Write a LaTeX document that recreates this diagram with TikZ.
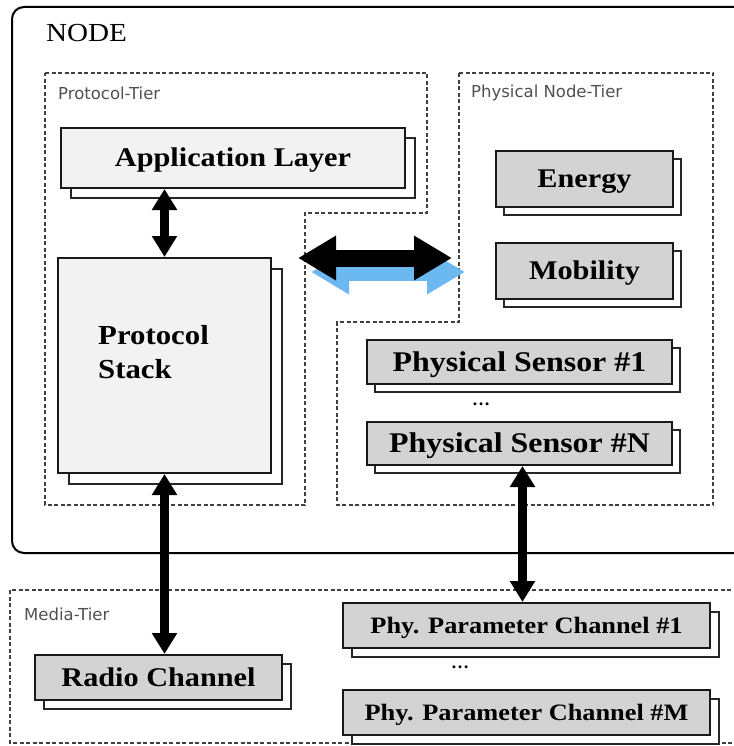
\documentclass[tikz,border=0pt]{standalone}
\usepackage{fontspec}
\setmainfont{Liberation Serif}
\newfontfamily\boxfont{Liberation Serif}[FakeStretch=1.12]
\newfontfamily\tierfont{DejaVu Sans}
\usetikzlibrary{arrows.meta,shadows,calc}
\definecolor{paleface}{HTML}{F2F2F2}
\definecolor{midface}{HTML}{D3D3D3}
\definecolor{tiergray}{HTML}{505050}
\definecolor{skyarrow}{HTML}{6CB8F0}

\begin{document}
\begin{tikzpicture}[x=1pt,y=-1pt,
  frontbox/.style={draw=black!90, line width=2pt, inner sep=0pt,
    text height=17.5pt, text depth=0pt,
    font=\boxfont\bfseries\fontsize{27pt}{32pt}\selectfont},
  bigtext/.style={text height=18.5pt,
    font=\boxfont\bfseries\fontsize{28.5pt}{32pt}\selectfont},
  smalltext/.style={text height=15.5pt,
    font=\boxfont\bfseries\fontsize{23.5pt}{28pt}\selectfont},
  backcopy/.style={copy shadow={shadow xshift=#1, shadow yshift=-#1,
    fill=white, draw=black!85, line width=1.2pt}},
  lightbox/.style={frontbox, fill=paleface},
  greybox/.style={frontbox, fill=midface},
  tier/.style={draw=black!75, line width=1.1pt, dash pattern=on 4pt off 2.5pt},
  tierlabel/.style={anchor=west, text=tiergray, inner sep=0pt,
    font=\tierfont\fontsize{16.5pt}{19pt}\selectfont},
  vlink/.style={line width=9pt,
    {Triangle[width=24pt,length=21pt]}-{Triangle[width=24pt,length=21pt]}},
  hlink/.style={line width=17pt,
    {Triangle[width=42pt,length=38pt]}-{Triangle[width=42pt,length=38pt]}},
  dotsnode/.style={inner sep=0pt, font=\bfseries\fontsize{18pt}{18pt}\selectfont}
]
\useasboundingbox[fill=white] (0,0) rectangle (733,746);

% outer node frame
\draw[line width=2pt, rounded corners=12pt] (12,7) rectangle (770,553);
\node[anchor=center, inner sep=0pt, font=\boxfont\fontsize{26pt}{30pt}\selectfont] (nodetitle) at (86.5,33) {NODE};

% tiers
\draw[tier] (45,73) -- (427,73) -- (427,213) -- (305,213) -- (305,505) -- (45,505) -- cycle;
\node[tierlabel] (ptier) at (58,93) {Protocol-Tier};
\draw[tier] (459,73) -- (713,73) -- (713,505) -- (337,505) -- (337,322) -- (459,322) -- cycle;
\node[tierlabel] (ntier) at (471,93) {Physical Node-Tier};
\draw[tier] (10,590) rectangle (770,743);
\node[tierlabel] (mtier) at (24,614) {Media-Tier};

% protocol tier boxes
\node[lightbox, backcopy=10pt, minimum width=344pt, minimum height=60pt] (app) at (233,158) {Application Layer};
\node[lightbox, backcopy=11pt, minimum width=213pt, minimum height=215pt] (stack) at (164.5,365.5) {};
\node[anchor=west, align=left, inner sep=0pt,
  font=\boxfont\bfseries\fontsize{27.5pt}{34pt}\selectfont] (stacktext) at (98,352) {Protocol\\Stack};

% physical node tier boxes
\node[greybox, backcopy=8pt, minimum width=177pt, minimum height=56pt] (energy) at (584.5,179) {Energy};
\node[greybox, backcopy=8pt, minimum width=177pt, minimum height=56pt] (mobility) at (584.5,271) {Mobility};
\node[greybox, bigtext, backcopy=8pt, minimum width=305pt, minimum height=44pt] (sens1) at (519.5,362) {Physical Sensor \#1};
\node[dotsnode] (sdots) at (481,404) {\ldots};
\node[greybox, bigtext, backcopy=8pt, minimum width=305pt, minimum height=43pt] (sensN) at (519.5,443.5) {Physical Sensor \#N};

% media tier boxes
\node[greybox, backcopy=9pt, minimum width=247pt, minimum height=45pt] (radio) at (158.5,677.5) {Radio Channel};
\node[greybox, smalltext, backcopy=9pt, minimum width=367pt, minimum height=45pt] (chan1) at (526.5,625.5) {Phy. Parameter Channel \#1};
\node[dotsnode] (cdots) at (460,667) {\ldots};
\node[greybox, smalltext, backcopy=9pt, minimum width=367pt, minimum height=45pt] (chanM) at (526.5,712.5) {Phy. Parameter Channel \#M};

% vertical links
\draw[vlink] (stack.north) -- (stack.north |- app.south);
\draw[vlink] (stack.south) -- (stack.south |- radio.north);
\draw[vlink] ([xshift=3pt]sensN.south) -- ([xshift=3pt]sensN.south |- chan1.north);

% horizontal link between the two node tiers, with its blue shade behind
\coordinate (hl) at (298,258);
\coordinate (hr) at (452,258);
\coordinate (bl) at (311,272);
\coordinate (br) at (465,272);
\draw[hlink, draw=skyarrow, fill=skyarrow] (bl) -- (br);
\draw[hlink, draw=black, fill=black] (hl) -- (hr);
\end{tikzpicture}
\end{document}
